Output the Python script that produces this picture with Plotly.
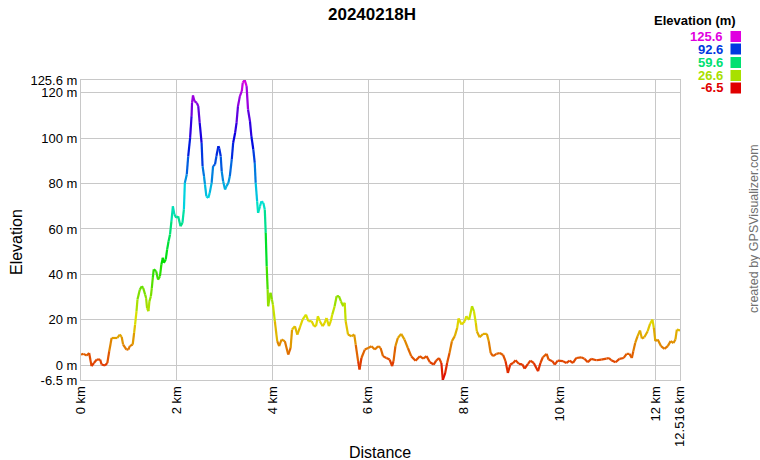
import colorsys
import plotly.graph_objects as go

# ---------------- data ----------------
title_text = "20240218H"
distance_km = [
    0.00, 0.05, 0.12, 0.17, 0.22, 0.27, 0.33, 0.40, 0.43, 0.50, 0.55, 0.59, 0.64, 0.71, 0.76, 0.81,
    0.85, 0.88, 0.95, 0.99, 1.02, 1.08, 1.11, 1.13, 1.16, 1.18, 1.23, 1.27, 1.30, 1.34, 1.36, 1.38,
    1.41, 1.43, 1.46, 1.48, 1.50, 1.52, 1.57, 1.61, 1.65, 1.68, 1.71, 1.73, 1.77, 1.80, 1.83, 1.86,
    1.89, 1.92, 1.95, 1.99, 2.03, 2.08, 2.12, 2.15, 2.17, 2.21, 2.24, 2.28, 2.31, 2.32, 2.34, 2.37,
    2.42, 2.45, 2.48, 2.52, 2.54, 2.57, 2.59, 2.62, 2.66, 2.69, 2.73, 2.76, 2.80, 2.83, 2.87, 2.89,
    2.92, 2.94, 2.97, 3.01, 3.04, 3.08, 3.11, 3.15, 3.18, 3.22, 3.25, 3.28, 3.32, 3.36, 3.38, 3.42,
    3.46, 3.49, 3.53, 3.56, 3.60, 3.63, 3.65, 3.68, 3.70, 3.74, 3.77, 3.81, 3.84, 3.86, 3.88, 3.90,
    3.91, 3.96, 3.99, 4.01, 4.05, 4.10, 4.14, 4.19, 4.26, 4.33, 4.38, 4.41, 4.47, 4.52, 4.57, 4.63,
    4.70, 4.75, 4.82, 4.87, 4.91, 4.95, 4.99, 5.05, 5.09, 5.13, 5.18, 5.22, 5.25, 5.30, 5.34, 5.39,
    5.43, 5.48, 5.51, 5.53, 5.58, 5.65, 5.71, 5.74, 5.79, 5.82, 5.86, 5.93, 6.00, 6.07, 6.14, 6.21,
    6.26, 6.31, 6.38, 6.45, 6.50, 6.53, 6.57, 6.62, 6.69, 6.76, 6.83, 6.90, 6.99, 7.08, 7.15, 7.22,
    7.29, 7.37, 7.42, 7.48, 7.53, 7.56, 7.61, 7.65, 7.70, 7.75, 7.81, 7.86, 7.89, 7.95, 8.02, 8.05,
    8.11, 8.17, 8.21, 8.25, 8.27, 8.33, 8.40, 8.48, 8.52, 8.56, 8.61, 8.68, 8.75, 8.82, 8.87, 8.92,
    8.97, 9.03, 9.08, 9.15, 9.22, 9.27, 9.34, 9.39, 9.46, 9.55, 9.60, 9.65, 9.73, 9.77, 9.85, 9.90,
    9.96, 10.07, 10.14, 10.21, 10.28, 10.35, 10.45, 10.52, 10.59, 10.66, 10.77, 10.87, 10.98, 11.03, 11.08, 11.17,
    11.25, 11.34, 11.40, 11.46, 11.51, 11.54, 11.58, 11.63, 11.68, 11.72, 11.77, 11.84, 11.89, 11.94, 11.97, 12.00,
    12.05, 12.12, 12.19, 12.26, 12.32, 12.38, 12.42, 12.45, 12.516,
]
elevation_m = [
    4.7, 5.0, 4.3, 5.4, -0.4, 1.0, 2.5, 2.5, 0.3, -0.1, 1.0, 6.2, 12.0, 12.0, 12.0, 13.5,
    12.5, 9.1, 6.9, 6.9, 8.4, 9.1, 14.2, 17.9, 23.8, 28.9, 33.3, 34.8, 34.0, 31.1, 29.6, 25.2,
    23.8, 28.2, 30.4, 34.0, 38.5, 42.2, 41.4, 37.7, 39.2, 44.4, 47.3, 45.1, 46.5, 51.0, 54.6, 57.6,
    63.5, 70.0, 66.5, 64.9, 65.6, 61.2, 62.7, 68.6, 80.3, 84.0, 92.0, 100.1, 109.7, 115.5, 118.8, 116.3,
    115.5, 114.1, 106.7, 97.9, 87.7, 83.3, 79.6, 74.4, 73.7, 75.9, 80.3, 87.7, 88.4, 92.1, 96.5, 95.5,
    92.0, 85.5, 81.0, 77.4, 78.9, 80.3, 83.3, 90.6, 98.0, 102.3, 106.7, 114.1, 118.5, 120.7, 124.4, 125.6,
    122.9, 112.6, 107.5, 100.9, 95.0, 89.1, 80.3, 72.2, 67.1, 70.0, 72.2, 71.5, 68.6, 58.3, 43.6, 33.3,
    26.0, 31.9, 28.9, 26.7, 19.4, 10.6, 8.4, 11.3, 10.6, 4.7, 7.6, 15.7, 17.2, 13.5, 16.4, 20.1,
    22.3, 19.4, 19.4, 17.2, 17.2, 21.6, 19.4, 17.2, 18.5, 20.8, 17.2, 19.4, 22.3, 26.0, 30.4, 30.4,
    28.2, 26.0, 27.5, 19.4, 13.5, 12.8, 13.5, 9.1, 1.8, -1.9, 3.2, 6.9, 7.6, 8.4, 6.9, 8.4,
    7.6, 4.0, 3.2, 2.5, -0.4, 1.8, 8.4, 12.0, 13.8, 11.3, 7.6, 4.0, 2.0, 4.0, 2.9, 4.0,
    1.3, 0.3, 2.0, 3.2, 1.0, -6.5, -3.4, 1.0, 5.4, 10.6, 12.8, 16.4, 20.6, 17.9, 19.4, 21.6,
    20.0, 26.0, 23.8, 18.6, 15.0, 12.3, 13.8, 13.8, 10.6, 5.4, 4.0, 5.0, 5.4, 4.5, 1.8, -3.4,
    0.3, 1.0, 2.2, 0.6, 0.4, -1.5, 0.6, 2.0, 1.0, -2.6, 1.0, 3.5, 5.0, 2.5, 1.8, 0.3,
    2.0, 1.8, 1.0, 2.0, 1.0, 3.2, 3.5, 2.9, 1.3, 2.8, 2.2, 2.5, 2.9, 3.2, 2.2, 1.3,
    2.8, 3.2, 5.0, 5.0, 3.2, 6.2, 9.8, 12.8, 15.3, 11.8, 12.3, 15.0, 18.2, 20.1, 16.4, 10.6,
    11.3, 8.4, 7.2, 8.4, 10.6, 9.8, 11.3, 15.7, 15.3,
]
x_tick_vals = [0, 2, 4, 6, 8, 10, 12, 12.516]
x_tick_text = ["0 km", "2 km", "4 km", "6 km", "8 km", "10 km", "12 km", "12.516 km"]
y_tick_vals = [-6.5, 0, 20, 40, 60, 80, 100, 120, 125.6]
y_tick_text = ["-6.5 m", "0 m", "20 m", "40 m", "60 m", "80 m", "100 m", "120 m", "125.6 m"]
legend_values = [125.6, 92.6, 59.6, 26.6, -6.5]
legend_labels = ["125.6", "92.6", "59.6", "26.6", "-6.5"]

E_MIN, E_MAX = -6.5, 125.6
FONT = "Arial, Liberation Sans, sans-serif"


def elev_color(v):
    t = (v - E_MIN) / (E_MAX - E_MIN)
    t = min(max(t, 0.0), 1.0)
    r, g, b = colorsys.hsv_to_rgb(t * 300.0 / 360.0, 1.0, 0.88)
    return "rgb(%d,%d,%d)" % (round(r * 255), round(g * 255), round(b * 255))


W, H = 760, 460
ML, MR, MT, MB = 81, 80, 80, 80
PW, PH = W - ML - MR, H - MT - MB


def px(xp):
    return (xp - ML) / PW


def py(yp):
    return (H - MB - yp) / PH


fig = go.Figure()
for i in range(len(distance_km) - 1):
    fig.add_trace(go.Scatter(
        x=[distance_km[i], distance_km[i + 1]],
        y=[elevation_m[i], elevation_m[i + 1]],
        mode="lines",
        line=dict(color=elev_color((elevation_m[i] + elevation_m[i + 1]) / 2), width=2.2),
        hoverinfo="skip", showlegend=False,
    ))

axis_common = dict(
    showgrid=True, gridcolor="#c8c8c8", gridwidth=1, zeroline=False,
    showline=True, mirror=True, linecolor="#c8c8c8", linewidth=1,
    ticks="", tickfont=dict(family=FONT, size=13, color="#000"),
)
fig.update_xaxes(range=[0, distance_km[-1]], tickmode="array", tickvals=x_tick_vals,
                 ticktext=x_tick_text, tickangle=-90, **axis_common)
fig.update_yaxes(range=[E_MIN, E_MAX], tickmode="array", tickvals=y_tick_vals,
                 ticktext=y_tick_text, **axis_common)

ann = []
ann.append(dict(text="<b>%s</b>" % title_text, x=px(372), y=py(14), xref="paper", yref="paper",
                showarrow=False, font=dict(family=FONT, size=17, color="#000"),
                xanchor="center", yanchor="middle"))
ann.append(dict(text="Distance", x=px(380), y=py(452), xref="paper", yref="paper",
                showarrow=False, font=dict(family=FONT, size=16, color="#000"),
                xanchor="center", yanchor="middle"))
ann.append(dict(text="Elevation", x=px(16), y=py(242), xref="paper", yref="paper",
                showarrow=False, textangle=-90, font=dict(family=FONT, size=16, color="#000"),
                xanchor="center", yanchor="middle"))
ann.append(dict(text="created by GPSVisualizer.com", x=px(754), y=py(229), xref="paper", yref="paper",
                showarrow=False, textangle=-90, font=dict(family=FONT, size=12.5, color="#707070"),
                xanchor="center", yanchor="middle"))
ann.append(dict(text="<b>Elevation (m)</b>", x=px(738), y=py(20), xref="paper", yref="paper",
                showarrow=False, font=dict(family=FONT, size=13, color="#000"),
                xanchor="right", yanchor="middle"))

shapes = []
row_y = [36.5, 49, 62.5, 75.5, 88]
for v, lab, ry in zip(legend_values, legend_labels, row_y):
    c = elev_color(v)
    ann.append(dict(text="<b>%s</b>" % lab, x=px(725), y=py(ry), xref="paper", yref="paper",
                    showarrow=False, font=dict(family=FONT, size=13, color=c),
                    xanchor="right", yanchor="middle"))
    shapes.append(dict(type="rect", xref="paper", yref="paper",
                       x0=px(730.5), x1=px(741), y0=py(ry + 5.5), y1=py(ry - 5.5),
                       fillcolor=c, line=dict(width=0)))

fig.update_layout(
    width=W, height=H,
    margin=dict(l=ML, r=MR, t=MT, b=MB, pad=0),
    paper_bgcolor="white", plot_bgcolor="white",
    annotations=ann, shapes=shapes, showlegend=False,
    font=dict(family=FONT),
)
fig.write_html(
    "out.html",
    config={"displayModeBar": False},
    post_script="document.body.style.margin='0';document.body.style.padding='0';"
                "document.body.style.overflow='hidden';",
)
